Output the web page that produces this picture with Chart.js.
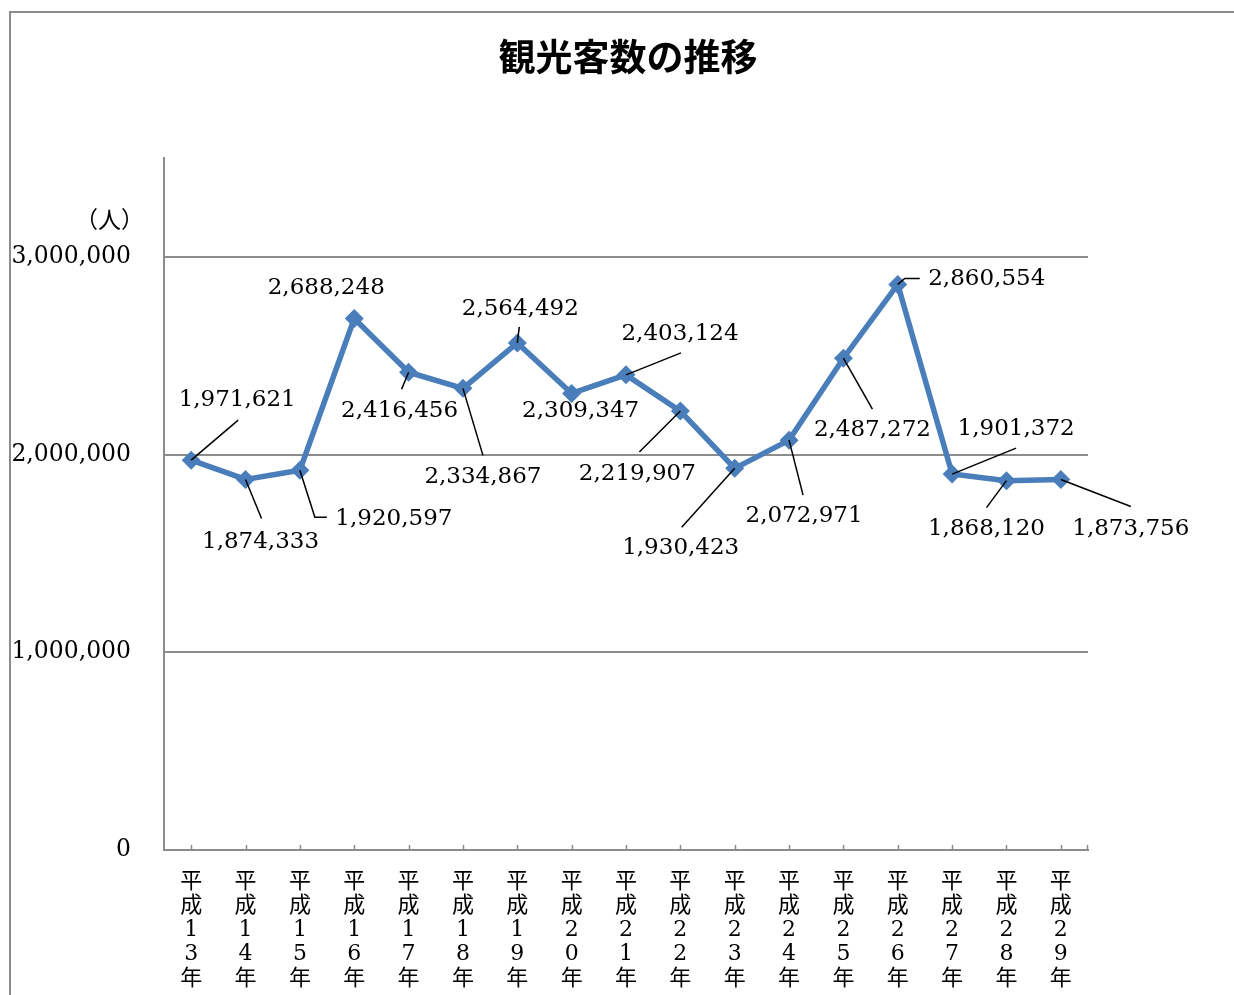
<!DOCTYPE html>
<html>
<head>
<meta charset="utf-8">
<script src="https://cdn.jsdelivr.net/npm/chart.js@4.4.1/dist/chart.umd.min.js"></script>
<style>
  html, body { margin: 0; padding: 0; background: #fff; }
  #wrap { width: 1234px; height: 995px; }
</style>
</head>
<body>
<div id="wrap"><canvas id="grafico" width="1234" height="995"></canvas></div>
<script>
// datos
var anios = ["13","14","15","16","17","18","19","20","21","22","23","24","25","26","27","28","29"];
var visitantes = [1971621, 1874333, 1920597, 2688248, 2416456, 2334867, 2564492, 2309347, 2403124,
                  2219907, 1930423, 2072971, 2487272, 2860554, 1901372, 1868120, 1873756];
var ticksY = [0, 1000000, 2000000, 3000000];

// posicion de cada etiqueta respecto a su punto (dx, dy) y la linea guia
var etiquetaDesp = [[46,-60],[15,63],[94,49],[-28,-30],[-9,39],[20,89],[3,-34],[9,18],[54,-41],
                    [-43,63],[-54,80],[15,76],[29,72],[89,-5],[64,-45],[-20,48],[70,49]];
var guias = [[[47,-40]],[[16,39]],[[15,47],[27,47]],null,[[-7,17]],[[20,67]],[[2,-16]],null,[[55,-22]],
             [[-41,41]],[[-53,59]],[[14,55]],[[29,51]],[[7,-6],[22,-6]],[[64,-26]],[[-20,27]],[[70,27]]];

var etiquetasX = anios.map(function(a){ return ["平","成",a[0],a[1],"年"]; });
var fuente = "'DejaVu Serif', 'Noto Sans CJK JP', serif";
var gris = "#8c8c8c";

var decorado = {
  id: "decorado",
  beforeDraw: function(chart){
    var c = chart.ctx;
    c.save();
    c.fillStyle = "#fff";
    c.fillRect(0, 0, chart.width, chart.height);
    c.strokeStyle = gris;
    c.lineWidth = 2;
    c.strokeRect(10, 12, 1240, 1000);
    c.restore();
  },
  afterDraw: function(chart){
    var c = chart.ctx;
    var x = chart.scales.x, y = chart.scales.y;
    c.save();
    // titulo
    c.fillStyle = "#000";
    c.font = "bold 37px 'Noto Sans CJK JP', sans-serif";
    c.textAlign = "center";
    c.textBaseline = "middle";
    c.fillText("観光客数の推移", 628, 57);
    // unidad
    c.font = "23px " + fuente;
    c.textAlign = "right";
    c.fillText("（人）", 144, 222);
    // marcas del eje x
    c.strokeStyle = gris;
    c.lineWidth = 1.5;
    c.beginPath();
    for (var i = 0; i < anios.length; i++) {
      var px = Math.round(x.getPixelForValue(i)) + 0.5;
      c.moveTo(px, y.bottom); c.lineTo(px, y.bottom - 5);
    }
    c.moveTo(x.right - 0.5, y.bottom); c.lineTo(x.right - 0.5, y.bottom - 5);
    c.stroke();
    // etiquetas de datos
    var meta = chart.getDatasetMeta(0);
    c.font = "23px " + fuente;
    c.textAlign = "center";
    c.strokeStyle = "#000";
    c.lineWidth = 1.5;
    meta.data.forEach(function(p, i){
      var g = guias[i];
      if (g) {
        c.beginPath();
        c.moveTo(p.x, p.y);
        g.forEach(function(q){ c.lineTo(p.x + q[0], p.y + q[1]); });
        c.stroke();
      }
      c.fillText(visitantes[i].toLocaleString("en-US"), p.x + etiquetaDesp[i][0], p.y + etiquetaDesp[i][1]);
    });
    c.restore();
  }
};

var ctx = document.getElementById("grafico").getContext("2d");
var chart = new Chart(ctx, {
  type: "line",
  data: {
    labels: etiquetasX,
    datasets: [{
      data: visitantes,
      borderColor: "#4a7ebb",
      backgroundColor: "#4a7ebb",
      borderWidth: 5.5,
      pointStyle: "rectRot",
      pointRadius: 9.5,
      pointBorderWidth: 0,
      tension: 0
    }]
  },
  options: {
    responsive: false,
    animation: false,
    layout: { padding: { left: 0, right: 146, top: 158, bottom: 0 } },
    plugins: { legend: { display: false }, tooltip: { enabled: false }, title: { display: false } },
    scales: {
      x: {
        offset: true,
        grid: { display: false },
        border: { display: true, color: gris, width: 2 },
        ticks: {
          color: "#000", maxRotation: 0, autoSkip: false, padding: 12,
          font: { family: fuente, size: 22, lineHeight: 1.1 }
        },
        afterFit: function(s){ s.height = 145; }
      },
      y: {
        min: 0,
        max: 3500000,
        grid: { color: gris, lineWidth: 2, drawTicks: false },
        border: { display: true, color: gris, width: 2 },
        afterBuildTicks: function(s){ s.ticks = ticksY.map(function(v){ return { value: v }; }); },
        ticks: {
          color: "#000", padding: 33,
          font: { family: fuente, size: 23.5 },
          callback: function(v){ return Number(v).toLocaleString("en-US"); }
        },
        afterFit: function(s){ s.width = 164; }
      }
    }
  },
  plugins: [decorado]
});
</script>
</body>
</html>
